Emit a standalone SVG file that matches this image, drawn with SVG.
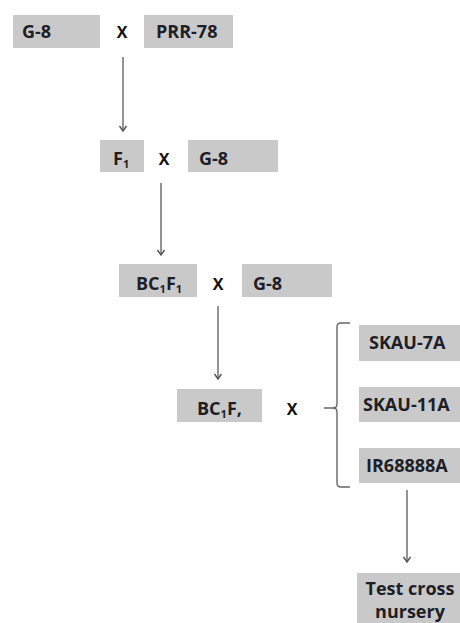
<svg xmlns="http://www.w3.org/2000/svg" width="460" height="623" viewBox="0 0 460 623">
<style>
.box{fill:#c9c9c9}
.t{font-family:"Open Sans","Noto Sans",sans-serif;font-weight:700;font-size:18px;fill:#1e1e28}
.s{font-size:11px}
.x{font-family:"Open Sans","Noto Sans",sans-serif;font-weight:700;font-size:16px;fill:#111}
.c{stroke:#666;stroke-width:1.4;fill:none}
</style>
<defs>
<marker id="ah" markerWidth="10" markerHeight="10" refX="8" refY="5" orient="auto" markerUnits="userSpaceOnUse" viewBox="0 0 10 10">
<polyline points="3,1.5 8,5 3,8.5" fill="none" stroke="#555" stroke-width="1.4"/>
</marker>
</defs>
<rect width="460" height="623" fill="#fff"/>
<g id="n-g8a"><rect class="box" x="13" y="15" width="87" height="33"/><text class="t" x="22" y="38">G-8</text></g>
<g id="x1"><text class="x" x="122" y="38" text-anchor="middle">X</text></g>
<g id="n-prr78"><rect class="box" x="144" y="15" width="89" height="33"/><text class="t" x="156" y="38">PRR-78</text></g>
<g id="n-f1"><rect class="box" x="100" y="140" width="44" height="32"/><text class="t" x="113" y="165">F<tspan class="s" dy="3">1</tspan></text></g>
<g id="x2"><text class="x" x="164" y="165" text-anchor="middle">X</text></g>
<g id="n-g8b"><rect class="box" x="188" y="140" width="90" height="32"/><text class="t" x="199" y="165">G-8</text></g>
<g id="n-bc1f1"><rect class="box" x="119" y="264" width="78" height="33"/><text class="t" x="136" y="290">BC<tspan class="s" dy="3">1</tspan><tspan dy="-3">F</tspan><tspan class="s" dy="3">1</tspan></text></g>
<g id="x3"><text class="x" x="218" y="290" text-anchor="middle">X</text></g>
<g id="n-g8c"><rect class="box" x="242" y="264" width="90" height="33"/><text class="t" x="253" y="290">G-8</text></g>
<g id="n-bc1f2"><rect class="box" x="177" y="389" width="85" height="33"/><text class="t" x="197" y="415">BC<tspan class="s" dy="3">1</tspan><tspan dy="-3">F,</tspan></text></g>
<g id="x4"><text class="x" x="292" y="415" text-anchor="middle">X</text></g>
<g id="n-skau7a"><rect class="box" x="359" y="325" width="101" height="36"/><text class="t" x="369" y="349">SKAU-7A</text></g>
<g id="n-skau11a"><rect class="box" x="359" y="387" width="101" height="35"/><text class="t" x="363" y="411">SKAU-11A</text></g>
<g id="n-ir68888a"><rect class="box" x="359" y="448" width="101" height="35"/><text class="t" x="366" y="472">IR68888A</text></g>
<g id="n-test"><rect class="box" x="357" y="573" width="103" height="50"/><text class="t" x="410" y="595" text-anchor="middle" font-size="15">Test cross</text><text class="t" x="410" y="618" text-anchor="middle" font-size="15">nursery</text></g>
<g id="connectors">
<line class="c" x1="123" y1="57" x2="123" y2="131" marker-end="url(#ah)"/>
<line class="c" x1="161" y1="183" x2="161" y2="255" marker-end="url(#ah)"/>
<line class="c" x1="218" y1="306" x2="218" y2="379" marker-end="url(#ah)"/>
<line class="c" x1="407" y1="490" x2="407" y2="562" marker-end="url(#ah)"/>
<path class="c" d="M350,323 L341,323 Q337,323 337,327 L337,404 Q337,408 333,408 L324,408 M333,408 Q337,408 337,412 L337,483 Q337,487 341,487 L350,487"/>
</g>
</svg>
